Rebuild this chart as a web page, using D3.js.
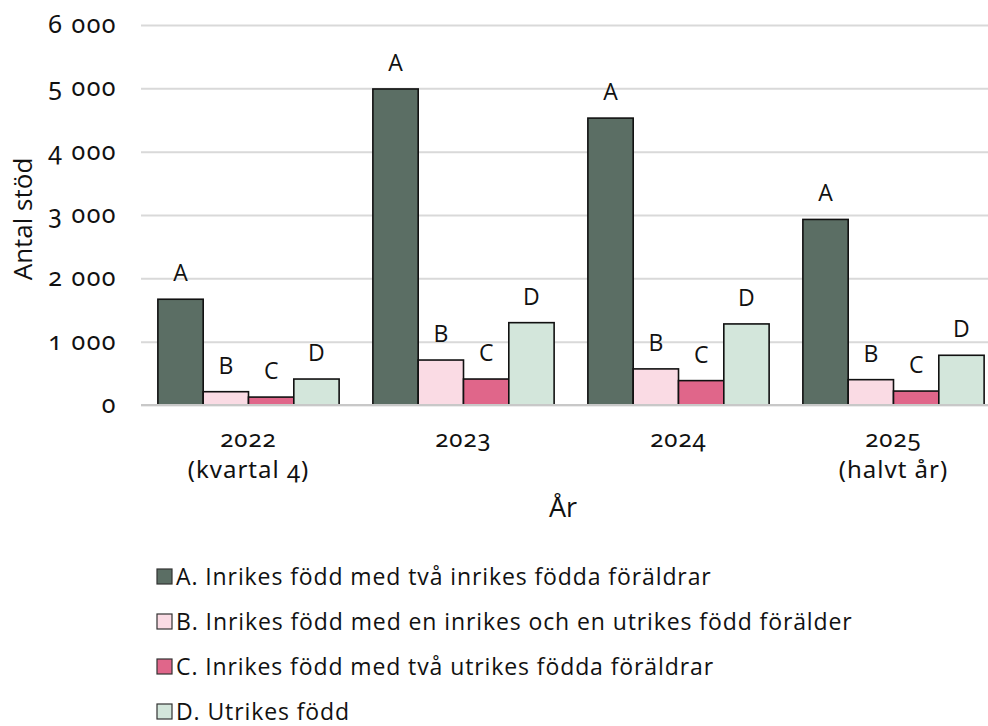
<!DOCTYPE html>
<html>
<head>
<meta charset="utf-8">
<script src="https://cdn.jsdelivr.net/npm/d3@7"></script>
<style>
  body { margin: 0; background: #fff; }
  svg { display: block; font-family: "Open Sans", "Noto Sans", sans-serif; }
</style>
</head>
<body>
<div id="chart"></div>
<script>
// data
const categoryLines = [["2022", "(kvartal 4)"], ["2023"], ["2024"], ["2025", "(halvt år)"]];
const seriesKeys = ["A", "B", "C", "D"];
const seriesNames = [
  "A. Inrikes född med två inrikes födda föräldrar",
  "B. Inrikes född med en inrikes och en utrikes född förälder",
  "C. Inrikes född med två utrikes födda föräldrar",
  "D. Utrikes född"
];
const seriesColors = ["#5b6e64", "#fadbe4", "#e0668a", "#d3e6db"];
const valuesA = [1670, 4990, 4530, 2930];
const valuesB = [210, 710, 570, 400];
const valuesC = [125, 410, 385, 220];
const valuesD = [410, 1300, 1280, 785];
const yTicks = [0, 1000, 2000, 3000, 4000, 5000, 6000];

const width = 988, height = 726;
const plotLeft = 141, plotRight = 1001, plotTop = 25, plotBottom = 405;

const svg = d3.select("#chart").append("svg")
  .attr("width", width)
  .attr("height", height);

const seriesValues = [valuesA, valuesB, valuesC, valuesD];
const rows = categoryLines.map((c, i) => ({
  cat: i,
  bars: seriesKeys.map((k, j) => ({ key: k, value: seriesValues[j][i], color: seriesColors[j] }))
}));

const x0 = d3.scaleBand()
  .domain(d3.range(categoryLines.length))
  .range([plotLeft, plotRight])
  .paddingInner(0.157)
  .paddingOuter(0.0785);

const x1 = d3.scaleBand()
  .domain(seriesKeys)
  .range([0, x0.bandwidth()]);

const y = d3.scaleLinear().domain([0, 6000]).range([plotBottom, plotTop]);

const sv = d3.formatLocale({ decimal: ",", thousands: " ", grouping: [3], currency: ["", " kr"] });
const fmt = sv.format(",");

// y axis + gridlines
const yAxis = svg.append("g")
  .attr("transform", `translate(${plotLeft},0)`)
  .call(d3.axisLeft(y).tickValues(yTicks).tickSize(-(width - plotLeft)).tickPadding(24).tickFormat(fmt));
yAxis.select(".domain").remove();
yAxis.selectAll(".tick line").attr("stroke", "#d9d9d9").attr("stroke-width", 2);
yAxis.selectAll(".tick text")
  .attr("font-family", "'Noto Sans', sans-serif")
  .style("font-feature-settings", "'onum' 1")
  .style("letter-spacing", "1.5px")
  .attr("font-size", 25)
  .attr("fill", "#111")
  .attr("dy", "0.3em");

// bars
const groups = svg.append("g").selectAll("g")
  .data(rows)
  .enter()
  .append("g")
  .attr("transform", d => `translate(${x0(d.cat)},0)`);

groups.selectAll("rect")
  .data(d => d.bars)
  .enter()
  .append("rect")
  .attr("x", d => x1(d.key))
  .attr("y", d => y(d.value))
  .attr("width", x1.bandwidth())
  .attr("height", d => y(0) - y(d.value))
  .attr("fill", d => d.color)
  .attr("stroke", "#111")
  .attr("stroke-width", 1.6);

groups.selectAll("text")
  .data(d => d.bars)
  .enter()
  .append("text")
  .attr("x", d => x1(d.key) + x1.bandwidth() / 2)
  .attr("y", d => y(d.value) - 18)
  .attr("text-anchor", "middle")
  .attr("font-size", 23)
  .attr("fill", "#111")
  .text(d => d.key);

// baseline
svg.append("line")
  .attr("x1", plotLeft).attr("x2", width)
  .attr("y1", y(0)).attr("y2", y(0))
  .attr("stroke", "#c8c8c8").attr("stroke-width", 2);

// x labels
const xl = svg.append("g").selectAll("text")
  .data(categoryLines)
  .enter()
  .append("text")
  .attr("x", (d, i) => x0(i) + x0.bandwidth() / 2)
  .attr("y", 447)
  .attr("text-anchor", "middle")
  .attr("font-family", "'Noto Sans', sans-serif")
  .style("font-feature-settings", "'onum' 1")
  .style("letter-spacing", "1px")
  .attr("font-size", 24)
  .attr("fill", "#111");
xl.selectAll("tspan")
  .data(d => d)
  .enter()
  .append("tspan")
  .attr("x", function() { return d3.select(this.parentNode).attr("x"); })
  .attr("dy", (d, i) => i === 0 ? 0 : 31)
  .text(d => d);

// axis titles
svg.append("text")
  .attr("x", 563).attr("y", 517)
  .attr("text-anchor", "middle")
  .attr("font-size", 27)
  .attr("fill", "#111")
  .text("År");

svg.append("text")
  .attr("transform", "translate(32,219) rotate(-90)")
  .attr("text-anchor", "middle")
  .attr("font-size", 26)
  .attr("fill", "#111")
  .text("Antal stöd");

// legend
const legend = svg.append("g").selectAll("g")
  .data(seriesNames)
  .enter()
  .append("g")
  .attr("transform", (d, i) => `translate(157,${585 + i * 45})`);

legend.append("rect")
  .attr("x", 0).attr("y", -16)
  .attr("width", 15).attr("height", 15)
  .attr("fill", (d, i) => seriesColors[i])
  .attr("stroke", "#333")
  .attr("stroke-width", 1.2);

legend.append("text")
  .attr("x", 19)
  .attr("y", 0)
  .attr("font-size", 23)
  .style("letter-spacing", "0.9px")
  .attr("fill", "#111")
  .text(d => d);
</script>
</body>
</html>
